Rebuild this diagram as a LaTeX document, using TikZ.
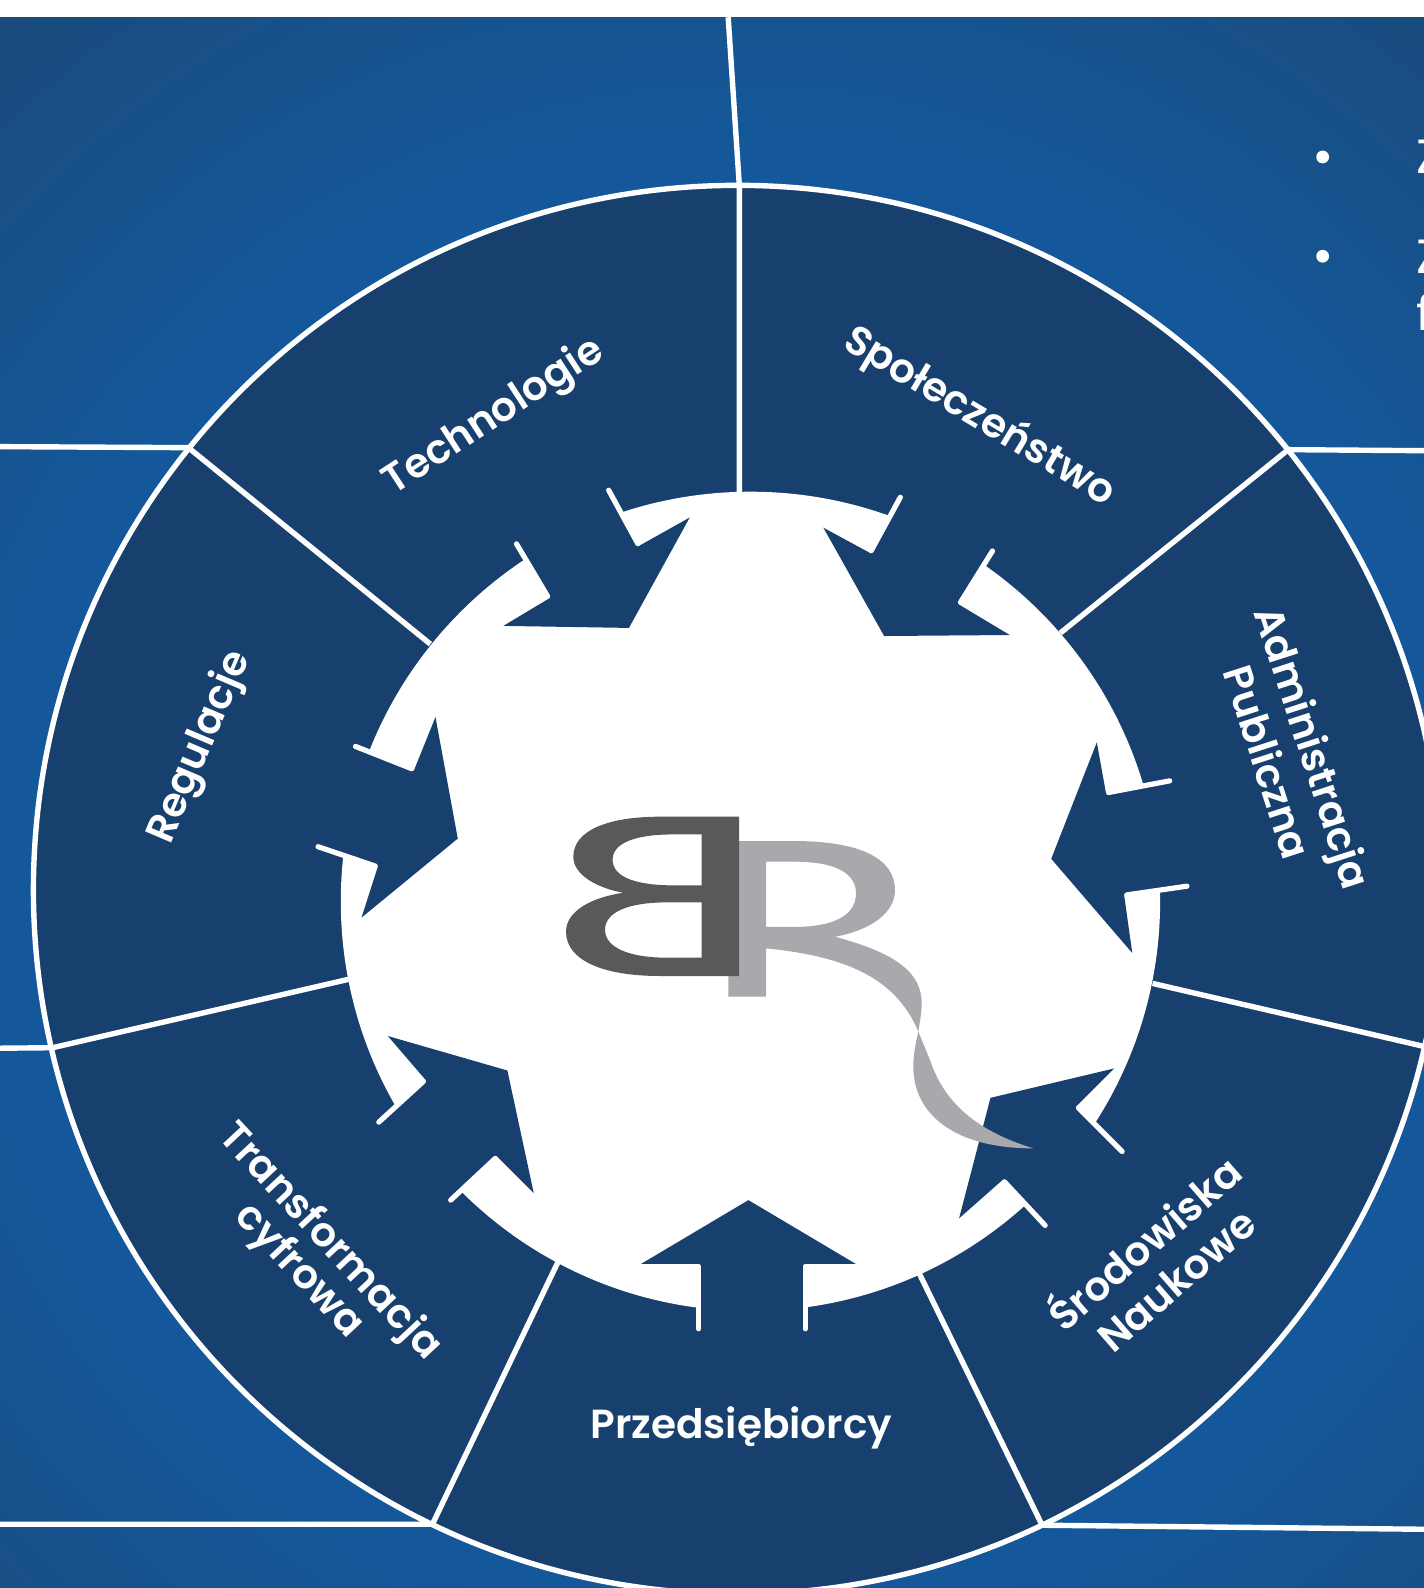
\documentclass[tikz,border=0pt]{standalone}
\usepackage{fontspec}
\setmainfont{Poppins}
\newfontfamily\labelfont{Poppins SemiBold}
\usetikzlibrary{calc}
\definecolor{bgmid}{HTML}{14589B}
\definecolor{bgdark}{HTML}{1A4A7A}
\definecolor{wheeldark}{HTML}{18406E}
\definecolor{logodark}{HTML}{58595B}
\definecolor{logolight}{HTML}{A7A9AC}
\pgfdeclareradialshading{bgglow}{\pgfpointorigin}{color(0bp)=(bgmid); color(15bp)=(bgmid); color(24bp)=(bgdark); color(50bp)=(bgdark)}
\tikzset{
wheelline/.style={draw=white, line width=2.7pt},
arrowedge/.style={draw=white, line width=2.6pt, line cap=round},
sectorlabel/.style={text=white, font=\labelfont\fontsize{20.3}{23}\selectfont, align=center, inner sep=0pt},
sidetext/.style={text=white, font=\fontsize{24}{28}\selectfont, anchor=base west, inner sep=0pt},
dotmark/.style={circle, fill=white, inner sep=0pt, minimum size=6.4pt}
}
\newcommand{\flagarrow}[7]{
\fill[wheeldark] #1 -- #2 -- #3 -- #4 -- #5 -- #6 -- #7 -- cycle;
\draw[arrowedge] ($#3!1.3pt!#4$) -- #4;
\draw[arrowedge] ($#6!1.3pt!#5$) -- #5;
}
\begin{document}
\begin{tikzpicture}[x=0.5064pt, y=-0.5064pt]
\useasboundingbox (0,0) rectangle (1406,1568);
\clip (0,0) rectangle (1406,1568);
\begin{scope}
\clip (0,17) rectangle (1406,1568);
\shade[shading=bgglow] (728,878) circle[radius=1200];
\end{scope}
% outer corners of the spokes
\coordinate (edgeA) at (719,17);
\coordinate (rimA) at (730,183);
\coordinate (hubA) at (730,486);
\coordinate (edgeB) at (1406,445);
\coordinate (rimB) at (1272,444);
\coordinate (hubB) at (1047,625);
\coordinate (rimC) at (1405,1033);
\coordinate (hubC) at (1138,971);
\coordinate (edgeD) at (1406,1510);
\coordinate (rimD) at (1029,1506);
\coordinate (hubD) at (908,1258);
\coordinate (edgeE) at (0,1505);
\coordinate (rimE) at (427,1505);
\coordinate (hubE) at (551,1246);
\coordinate (edgeF) at (0,1035);
\coordinate (rimF) at (52,1034.5);
\coordinate (hubF) at (344,967);
\coordinate (edgeG) at (0,441);
\coordinate (rimG) at (186,442);
\coordinate (hubG) at (425,636);
\fill[wheeldark, wheelline] (728.5,878.5) circle[radius=695.5];
\draw[wheelline] (edgeA) -- (rimA) -- (hubA);
\draw[wheelline] (edgeB) -- (rimB) -- (hubB);
\draw[wheelline] (rimC) -- (hubC);
\draw[wheelline] (edgeD) -- (rimD) -- (hubD);
\draw[wheelline] (edgeE) -- (rimE) -- (hubE);
\draw[wheelline] (edgeF) -- (rimF) -- (hubF);
\draw[wheelline] (edgeG) -- (rimG) -- (hubG);
\fill[white] (741,890) circle[radius=404.5];
% seven arrows, from the bottom one round to the left
\flagarrow{(739,1185)}{(633,1248)}{(690,1248)}{(690,1312)}{(795,1312)}{(795,1248)}{(845,1248)}
\flagarrow{(978,1084)}{(1100,1055)}{(1063,1092)}{(1108,1137)}{(1032,1210)}{(990,1165)}{(947,1203)}
\flagarrow{(1038,848)}{(1083,733)}{(1092,783)}{(1155,771)}{(1172,875)}{(1110,884)}{(1118,941)}
\flagarrow{(873,628)}{(813,521)}{(859,546)}{(889,491)}{(980,544)}{(947,597)}{(997,627)}
\flagarrow{(621,620)}{(681,511)}{(631,539)}{(601,484)}{(510,537)}{(542,591)}{(497,618)}
\flagarrow{(452,828)}{(430,708)}{(409,760)}{(351,737)}{(314,836)}{(373,856)}{(357,906)}
\flagarrow{(501,1057)}{(383,1023)}{(420,1066)}{(374,1108)}{(445,1185)}{(491,1142)}{(527,1178)}
% logo
\fill[logolight, even odd rule] (729.7,830.4) -- (783.3,830.4) .. controls (850,830.4) and (883.7,848) .. (883.7,878.8) .. controls (883.7,903) and (857,919) .. (824.5,924.9) .. controls (872.2,938) and (910.1,954.5) .. (910.1,990.7) .. controls (910.1,1000) and (908,1010) .. (906.8,1018.7) .. controls (904,1030) and (901.8,1042) .. (901.8,1053.3) .. controls (901.8,1099.3) and (941.3,1133.9) .. (1020.3,1133.9) .. controls (961.1,1115.8) and (931.4,1086.2) .. (918.3,1046.7) -- (906.8,1018.7) .. controls (885.4,967.7) and (839.3,944.6) .. (756.4,936.4) -- (756.4,984.1) -- (719.2,984.1) -- (719.2,963.7) -- (729.7,963.7) -- cycle
(756.4,850.8) -- (783.3,850.8) .. controls (825,850.8) and (845.2,862) .. (845.2,882.1) .. controls (845.2,903) and (825,915.3) .. (783.3,915.3) -- (756.4,915.3) -- cycle;
\fill[logodark, even odd rule] (729.7,806.4) -- (651.7,806.4) .. controls (600,806.4) and (566.1,820) .. (566.1,846) .. controls (566.1,864) and (590,877) .. (615.5,881.5) .. controls (585,886) and (558.9,899) .. (558.9,920) .. controls (558.9,948) and (595,963.7) .. (651.7,963.7) -- (729.7,963.7) -- cycle
(692.8,823.9) -- (664.9,823.9) .. controls (628,823.9) and (604.9,832) .. (604.9,849) .. controls (604.9,866) and (628,874.2) .. (664.9,874.2) -- (692.8,874.2) -- cycle
(692.8,891) -- (658.3,891) .. controls (622,891) and (597.4,900) .. (597.4,918) .. controls (597.4,936) and (622,945.6) .. (658.3,945.6) -- (692.8,945.6) -- cycle;
% labels
\node[sectorlabel, rotate=33] (technologie) at (488,412) {Technologie};
\node[sectorlabel, rotate=-31] (spoleczenstwo) at (967,412) {Społeczeństwo};
\node[sectorlabel, rotate=-72] (administracja) at (1275,745) {Administracja\\[1pt]Publiczna};
\node[sectorlabel, rotate=41] (srodowiska) at (1143,1243) {Środowiska\\[1pt]Naukowe};
\node[sectorlabel] (przedsiebiorcy) at (732,1410) {Przedsiębiorcy};
\node[sectorlabel, rotate=-47] (transformacja) at (310,1241) {Transformacja\\[-2pt]cyfrowa};
\node[sectorlabel, rotate=67] (regulacje) at (198,738) {Regulacje};
% cut off text on the right
\node[dotmark] (dotA) at (1306,155) {};
\node[dotmark] (dotB) at (1306,253) {};
\node[sidetext] (zetA) at (1398,171) {Z};
\node[sidetext] (zetB) at (1398,270) {Z};
\node[sidetext] (effC) at (1398,326) {f};
\end{tikzpicture}
\end{document}
